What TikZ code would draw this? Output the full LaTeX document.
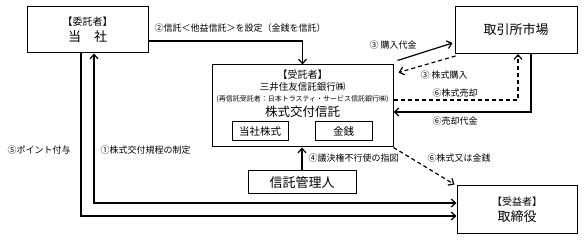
\documentclass[tikz,border=0pt]{standalone}
\usepackage{fontspec}
\setmainfont{Noto Sans CJK JP}
\usetikzlibrary{arrows.meta}
\begin{document}
\begin{tikzpicture}[x=1pt, y=-1pt, line width=1.2pt, >={Straight Barb[length=4.5pt,width=8pt]},
    box/.style={draw, rectangle, line width=1pt, inner sep=0pt, align=center},
    txt/.style={inner sep=0pt},
    lbl/.style={anchor=west, inner sep=0pt, font=\fontsize{9}{11}\selectfont},
    dash line/.style={dash pattern=on 4pt off 3pt}]
    \useasboundingbox (0,0) rectangle (586,240);

    % boxes
    \node (itaku) [box, minimum width=121pt, minimum height=46pt, font=\fontsize{10}{16}\selectfont] at (87.5,30) {【委託者】\\{\fontsize{13}{16}\selectfont 当\hspace{1em}社}};
    \node (market) [box, minimum width=122pt, minimum height=47pt, font=\fontsize{13}{16}\selectfont] at (516,30) {取引所市場};
    \node (trustee) [box, minimum width=181pt, minimum height=82pt] at (302.5,106) {};
    \node (trTitle) [txt, font=\fontsize{10}{12}\selectfont] at (302.5,75) {【受託者】};
    \node (trBank) [txt, font=\fontsize{9.5}{12}\selectfont] at (302.5,87) {三井住友信託銀行㈱};
    \node (trSub) [txt, font=\fontsize{7}{8}\selectfont] at (302.5,99) {(再信託受託者：日本トラスティ・サービス信託銀行㈱)};
    \node (trName) [txt, font=\fontsize{12.5}{14}\selectfont] at (302.5,112) {株式交付信託};
    \node (stock) [box, minimum width=56pt, minimum height=19pt, font=\fontsize{10.5}{12}\selectfont] at (260,131.5) {当社株式};
    \node (cash) [box, minimum width=57pt, minimum height=19pt, font=\fontsize{10.5}{12}\selectfont] at (343.5,131.5) {金銭};
    \node (admin) [box, minimum width=108pt, minimum height=23pt, font=\fontsize{13}{16}\selectfont] at (302,182.5) {信託管理人};
    \node (director) [box, minimum width=120pt, minimum height=47pt, font=\fontsize{10}{16}\selectfont] at (517,209.5) {【受益者】\\{\fontsize{13}{16}\selectfont 取締役}};

    % connectors
    \draw[->] ([yshift=-11pt]itaku.east) -| (trustee.north);
    \draw[->] ([xshift=-6.5pt]itaku.south) |- ([yshift=-6.5pt]director.west);
    \draw[<->] ([xshift=6.5pt]itaku.south) |- ([yshift=6.5pt]director.west);
    \draw[->] ([xshift=4pt,yshift=4pt]trustee.north east) -- ([xshift=-2pt,yshift=-13pt]market.west);
    \draw[->, dash line] ([xshift=1pt,yshift=-2pt]market.south west) -- ([xshift=5pt,yshift=-8pt]trustee.north east);
    \draw[->, dash line] ([yshift=6pt]trustee.east) -| ([xshift=2pt]market.south);
    \draw[->] ([xshift=15pt]market.south) |- ([yshift=-6pt]trustee.east);
    \draw[->, dash line] (trustee.south east) -- ([xshift=-2pt,yshift=1pt]director.north west);
    \draw[->] (admin.north) -- (admin.north |- trustee.south);

    % labels
    \node (lblSet) [lbl] at (154,28) {②信託＜他益信託＞を設定（金銭を信託）};
    \node (lblPay) [lbl] at (369,45) {③ 購入代金};
    \node (lblBuy) [lbl] at (420,75) {③ 株式購入};
    \node (lblSell) [lbl] at (432,93) {⑥株式売却};
    \node (lblProceeds) [lbl] at (432,121) {⑥売却代金};
    \node (lblDeliver) [lbl] at (427,158) {⑥株式又は金銭};
    \node (lblVote) [lbl] at (308,158) {④議決権不行使の指図};
    \node (lblRule) [lbl] at (100,150) {①株式交付規程の制定};
    \node (lblPoint) [lbl] at (7,150) {⑤ポイント付与};
\end{tikzpicture}
\end{document}
